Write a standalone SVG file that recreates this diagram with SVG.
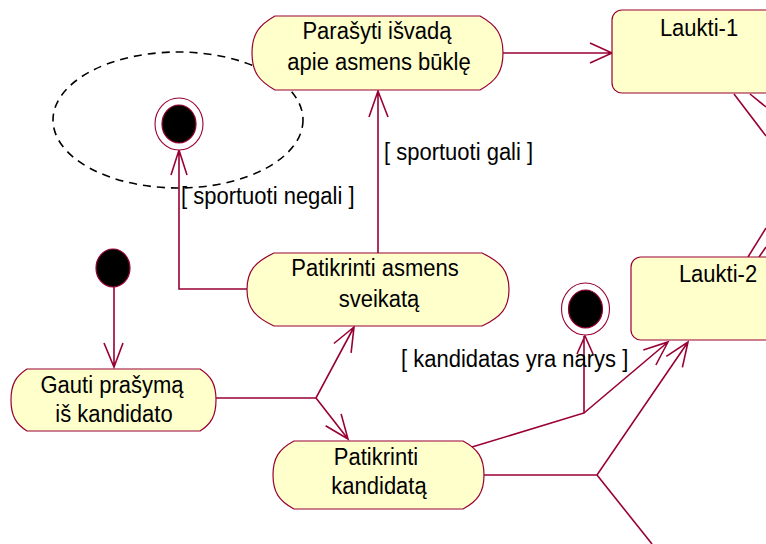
<svg xmlns="http://www.w3.org/2000/svg" width="766" height="544" viewBox="0 0 766 544">
  <style>
    .node { fill: #FFFFCC; stroke: #990033; stroke-width: 1.2; }
    .lbl { font-family: "Liberation Sans", Arial, sans-serif; font-size: 22px; fill: #000; text-anchor: middle; }
    .guard { font-family: "Liberation Sans", Arial, sans-serif; font-size: 22px; fill: #000; }
    .edge { fill: none; stroke: #990033; stroke-width: 1.6; }
    .ring { fill: #fff; stroke: #990033; stroke-width: 1.1; }
    .dot { fill: #000; stroke: #990033; stroke-width: 1.2; }
  </style>
  <rect width="766" height="544" fill="#fff"/>

  <!-- dashed grouping ellipse around the "sportuoti negali" end state -->
  <ellipse cx="178" cy="120" rx="125" ry="68" fill="none" stroke="#000" stroke-width="1.6" stroke-dasharray="8 6"/>

  <!-- connectors -->
  <g id="connectors" class="edge">
    <!-- Parasyti -> Laukti-1 -->
    <path d="M503,53 H612 M590,43 L612,53 L590,63"/>
    <!-- Patikrinti asmens sveikata -> Parasyti (sportuoti gali) -->
    <path d="M378,253 V91 M369,117 L378,91 L388,117"/>
    <!-- Patikrinti asmens sveikata -> end (sportuoti negali) -->
    <path d="M247,289 H179 V150 M171,175 L179,150 L187,175"/>
    <!-- start -> Gauti prasyma -->
    <path d="M114,287 V367 M104,343 L114,367 L123,343"/>
    <!-- Gauti prasyma fork -->
    <path d="M216,398 H316 L354,327 M333.9,343.5 L354,327 L351.1,352.8"/>
    <path d="M316,398 L348,439 M325.6,425.7 L348,439 L341.1,413.9"/>
    <!-- Patikrinti kandidata -> end / Laukti-2 -->
    <path d="M472,447 L584,413 V336 M577,354 L585,336 L593,354"/>
    <path d="M584,413 L668,342 M643.3,350.1 L668,342 L655.9,365"/>
    <!-- Patikrinti kandidata -> Laukti-2 / onward -->
    <path d="M484,475 H597 L688,342 M666.3,356.4 L688,342 L682.4,367.4"/>
    <path d="M597,475 L652,544"/>
    <!-- transitions leaving to the right -->
    <path d="M734,94 L766,136 M750,94 L766,107"/>
    <path d="M748,257 L766,228 M759,257 L766,247"/>
  </g>

  <g id="end1">
    <ellipse class="ring" cx="179" cy="124" rx="24" ry="26"/>
    <ellipse class="dot" cx="179" cy="124" rx="17" ry="19"/>
  </g>

  <g id="start">
    <ellipse class="dot" cx="113" cy="268" rx="17" ry="19"/>
  </g>

  <g id="end2">
    <ellipse class="ring" cx="585.5" cy="309" rx="24" ry="26"/>
    <ellipse class="dot" cx="585.5" cy="309" rx="17" ry="19"/>
  </g>

  <g id="parasyti">
    <path class="node" d="M275,16 H480 C496,25 503,34 503,53 C503,72 496,81 480,90 H275 C259,81 252,72 252,53 C252,34 259,25 275,16 Z"/>
    <text class="lbl" transform="translate(377 39) scale(1 1.12)">Parašyti išvadą</text>
    <text class="lbl" transform="translate(379 70) scale(1 1.12)">apie asmens būklę</text>
  </g>

  <g id="patikrinti-sveikata">
    <path class="node" d="M274,253 H482 C501,262 509,271 509,289.5 C509,308 501,317 482,326 H274 C255,317 247,308 247,289.5 C247,271 255,262 274,253 Z"/>
    <text class="lbl" transform="translate(375 276) scale(1 1.12)">Patikrinti asmens</text>
    <text class="lbl" transform="translate(379 307) scale(1 1.12)">sveikatą</text>
  </g>

  <g id="gauti">
    <path class="node" d="M27,369 H200 C211,376 216,384 216,400 C216,416 211,424 200,431 H27 C16,424 11,416 11,400 C11,384 16,376 27,369 Z"/>
    <text class="lbl" transform="translate(112 393) scale(1 1.12)">Gauti prašymą</text>
    <text class="lbl" transform="translate(114 422) scale(1 1.12)">iš kandidato</text>
  </g>

  <g id="patikrinti-kandidata">
    <path class="node" d="M294,441 H463 C478,449 484,458 484,475 C484,492 478,501 463,509 H294 C279,501 273,492 273,475 C273,458 279,449 294,441 Z"/>
    <text class="lbl" transform="translate(376 465) scale(1 1.12)">Patikrinti</text>
    <text class="lbl" transform="translate(379 494) scale(1 1.12)">kandidatą</text>
  </g>

  <g id="laukti-1">
    <rect class="node" x="612" y="10" width="200" height="83" rx="10"/>
    <text class="lbl" transform="translate(699 36) scale(1 1.12)">Laukti-1</text>
  </g>

  <g id="laukti-2">
    <rect class="node" x="631" y="257" width="200" height="83" rx="10"/>
    <text class="lbl" transform="translate(718 282) scale(1 1.12)">Laukti-2</text>
  </g>

  <!-- guard labels -->
  <text class="guard" transform="translate(384 160) scale(1 1.12)">[ sportuoti gali ]</text>
  <text class="guard" transform="translate(181 204) scale(1 1.12)">[ sportuoti negali ]</text>
  <text class="guard" transform="translate(401 367) scale(1 1.12)">[ kandidatas yra narys ]</text>
</svg>
